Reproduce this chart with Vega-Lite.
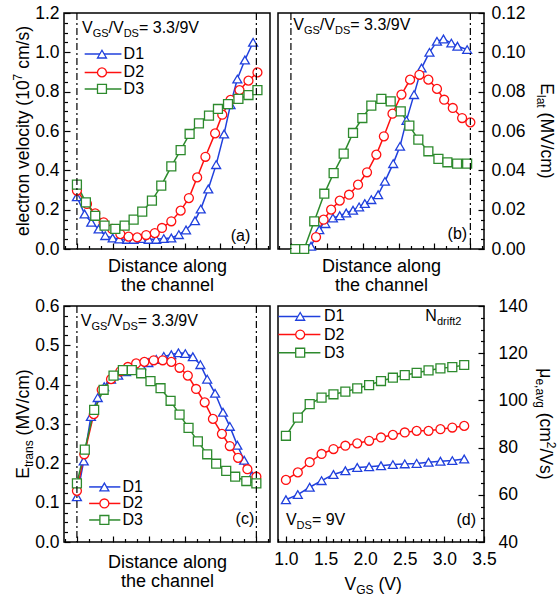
{
"$schema": "https://vega.github.io/schema/vega-lite/v6.json",
"padding": {"left": 11, "top": 3, "right": 0, "bottom": 0},
"config": {
  "font": "Liberation Sans",
  "view": {"stroke": "black", "strokeWidth": 1.5},
  "text": {"color": "black"},
  "axis": {"domain": false, "grid": false, "labelFontSize": 17.5, "labelColor": "black", "tickColor": "black", "tickWidth": 1.2, "titleFontSize": 18, "titleFontWeight": "normal", "titleColor": "black", "labelOverlap": false, "labelFlush": false, "labelBound": false, "titleLineHeight": 18.5}
},
"datasets": {
  "a": [
    {"series":"D1","distance":0,"value":0.266},{"series":"D1","distance":0.214,"value":0.178},{"series":"D1","distance":0.4,"value":0.136},{"series":"D1","distance":0.605,"value":0.102},{"series":"D1","distance":0.79,"value":0.068},{"series":"D1","distance":0.996,"value":0.056},{"series":"D1","distance":1.18,"value":0.051},{"series":"D1","distance":1.4,"value":0.049},{"series":"D1","distance":1.58,"value":0.049},{"series":"D1","distance":1.8,"value":0.053},{"series":"D1","distance":2.0,"value":0.049},{"series":"D1","distance":2.21,"value":0.049},{"series":"D1","distance":2.42,"value":0.053},{"series":"D1","distance":2.63,"value":0.056},{"series":"D1","distance":2.84,"value":0.073},{"series":"D1","distance":3.04,"value":0.097},{"series":"D1","distance":3.29,"value":0.144},{"series":"D1","distance":3.45,"value":0.203},{"series":"D1","distance":3.66,"value":0.305},{"series":"D1","distance":3.88,"value":0.429},{"series":"D1","distance":4.1,"value":0.585},{"series":"D1","distance":4.28,"value":0.734},{"series":"D1","distance":4.47,"value":0.864},{"series":"D1","distance":4.68,"value":0.961},{"series":"D1","distance":4.91,"value":1.051},
    {"series":"D2","distance":0,"value":0.297},{"series":"D2","distance":0.28,"value":0.229},{"series":"D2","distance":0.51,"value":0.181},{"series":"D2","distance":0.745,"value":0.136},{"series":"D2","distance":0.98,"value":0.102},{"series":"D2","distance":1.21,"value":0.076},{"series":"D2","distance":1.44,"value":0.063},{"series":"D2","distance":1.68,"value":0.059},{"series":"D2","distance":1.93,"value":0.071},{"series":"D2","distance":2.17,"value":0.081},{"series":"D2","distance":2.37,"value":0.107},{"series":"D2","distance":2.63,"value":0.141},{"series":"D2","distance":2.89,"value":0.195},{"series":"D2","distance":3.12,"value":0.259},{"series":"D2","distance":3.35,"value":0.364},{"series":"D2","distance":3.58,"value":0.469},{"series":"D2","distance":3.85,"value":0.588},{"series":"D2","distance":4.05,"value":0.683},{"series":"D2","distance":4.28,"value":0.758},{"series":"D2","distance":4.53,"value":0.808},{"series":"D2","distance":4.78,"value":0.856},{"series":"D2","distance":5.03,"value":0.898},
    {"series":"D3","distance":0,"value":0.327},{"series":"D3","distance":0.25,"value":0.237},{"series":"D3","distance":0.51,"value":0.169},{"series":"D3","distance":0.77,"value":0.119},{"series":"D3","distance":1.07,"value":0.102},{"series":"D3","distance":1.33,"value":0.119},{"series":"D3","distance":1.58,"value":0.149},{"series":"D3","distance":1.82,"value":0.19},{"series":"D3","distance":2.09,"value":0.246},{"series":"D3","distance":2.35,"value":0.322},{"series":"D3","distance":2.63,"value":0.42},{"series":"D3","distance":2.89,"value":0.503},{"series":"D3","distance":3.14,"value":0.585},{"series":"D3","distance":3.4,"value":0.639},{"series":"D3","distance":3.68,"value":0.678},{"series":"D3","distance":3.93,"value":0.712},{"series":"D3","distance":4.21,"value":0.737},{"series":"D3","distance":4.5,"value":0.763},{"series":"D3","distance":4.78,"value":0.783},{"series":"D3","distance":5.03,"value":0.808}
  ],
  "b": [
    {"series":"D1","distance":0.56,"value":0.0014},{"series":"D1","distance":0.79,"value":0.0098},{"series":"D1","distance":0.96,"value":0.0129},{"series":"D1","distance":1.17,"value":0.0158},{"series":"D1","distance":1.36,"value":0.0169},{"series":"D1","distance":1.54,"value":0.0183},{"series":"D1","distance":1.73,"value":0.0197},{"series":"D1","distance":1.9,"value":0.0214},{"series":"D1","distance":2.06,"value":0.0231},{"series":"D1","distance":2.24,"value":0.0251},{"series":"D1","distance":2.43,"value":0.0276},{"series":"D1","distance":2.62,"value":0.0344},{"series":"D1","distance":2.85,"value":0.0434},{"series":"D1","distance":3.04,"value":0.0522},{"series":"D1","distance":3.22,"value":0.0654},{"series":"D1","distance":3.43,"value":0.0785},{"series":"D1","distance":3.64,"value":0.092},{"series":"D1","distance":3.86,"value":0.1},{"series":"D1","distance":4.07,"value":0.1056},{"series":"D1","distance":4.25,"value":0.1068},{"series":"D1","distance":4.47,"value":0.1047},{"series":"D1","distance":4.64,"value":0.1031},{"series":"D1","distance":4.91,"value":0.1014},
    {"series":"D2","distance":0.7,"value":0.0061},{"series":"D2","distance":0.91,"value":0.0149},{"series":"D2","distance":1.12,"value":0.02},{"series":"D2","distance":1.36,"value":0.0246},{"series":"D2","distance":1.62,"value":0.0276},{"series":"D2","distance":1.87,"value":0.0327},{"series":"D2","distance":2.12,"value":0.039},{"series":"D2","distance":2.38,"value":0.048},{"series":"D2","distance":2.59,"value":0.0573},{"series":"D2","distance":2.83,"value":0.0688},{"series":"D2","distance":3.08,"value":0.0785},{"series":"D2","distance":3.32,"value":0.0861},{"series":"D2","distance":3.58,"value":0.0886},{"series":"D2","distance":3.83,"value":0.0861},{"series":"D2","distance":4.07,"value":0.0814},{"series":"D2","distance":4.27,"value":0.0759},{"series":"D2","distance":4.51,"value":0.0717},{"series":"D2","distance":4.77,"value":0.0666},{"series":"D2","distance":5.0,"value":0.0644},
    {"series":"D3","distance":0.12,"value":0},{"series":"D3","distance":0.37,"value":0},{"series":"D3","distance":0.65,"value":0.0141},{"series":"D3","distance":0.93,"value":0.0281},{"series":"D3","distance":1.19,"value":0.0386},{"series":"D3","distance":1.47,"value":0.0485},{"series":"D3","distance":1.73,"value":0.059},{"series":"D3","distance":1.99,"value":0.0666},{"series":"D3","distance":2.24,"value":0.0729},{"series":"D3","distance":2.52,"value":0.0763},{"series":"D3","distance":2.78,"value":0.0751},{"series":"D3","distance":3.06,"value":0.07},{"series":"D3","distance":3.3,"value":0.0627},{"series":"D3","distance":3.55,"value":0.0556},{"series":"D3","distance":3.83,"value":0.0497},{"series":"D3","distance":4.11,"value":0.0458},{"series":"D3","distance":4.36,"value":0.0441},{"series":"D3","distance":4.63,"value":0.0434},{"series":"D3","distance":4.91,"value":0.0434}
  ],
  "c": [
    {"series":"D1","distance":0,"value":0.115},{"series":"D1","distance":0.19,"value":0.206},{"series":"D1","distance":0.39,"value":0.319},{"series":"D1","distance":0.58,"value":0.367},{"series":"D1","distance":0.76,"value":0.395},{"series":"D1","distance":0.95,"value":0.414},{"series":"D1","distance":1.15,"value":0.424},{"series":"D1","distance":1.37,"value":0.433},{"series":"D1","distance":1.55,"value":0.439},{"series":"D1","distance":1.79,"value":0.448},{"series":"D1","distance":1.99,"value":0.456},{"series":"D1","distance":2.21,"value":0.464},{"series":"D1","distance":2.42,"value":0.472},{"series":"D1","distance":2.63,"value":0.476},{"series":"D1","distance":2.83,"value":0.481},{"series":"D1","distance":3.02,"value":0.479},{"series":"D1","distance":3.23,"value":0.471},{"series":"D1","distance":3.44,"value":0.451},{"series":"D1","distance":3.63,"value":0.414},{"series":"D1","distance":3.85,"value":0.378},{"series":"D1","distance":4.07,"value":0.33},{"series":"D1","distance":4.26,"value":0.294},{"series":"D1","distance":4.47,"value":0.246},{"series":"D1","distance":4.66,"value":0.208},{"series":"D1","distance":4.88,"value":0.168},
    {"series":"D2","distance":0,"value":0.13},{"series":"D2","distance":0.205,"value":0.223},{"series":"D2","distance":0.47,"value":0.325},{"series":"D2","distance":0.69,"value":0.387},{"series":"D2","distance":0.95,"value":0.414},{"series":"D2","distance":1.21,"value":0.434},{"series":"D2","distance":1.42,"value":0.445},{"series":"D2","distance":1.65,"value":0.454},{"series":"D2","distance":1.88,"value":0.458},{"series":"D2","distance":2.14,"value":0.462},{"series":"D2","distance":2.39,"value":0.462},{"series":"D2","distance":2.63,"value":0.458},{"series":"D2","distance":2.86,"value":0.443},{"series":"D2","distance":3.09,"value":0.423},{"series":"D2","distance":3.32,"value":0.389},{"series":"D2","distance":3.56,"value":0.355},{"series":"D2","distance":3.79,"value":0.313},{"series":"D2","distance":4.04,"value":0.275},{"series":"D2","distance":4.26,"value":0.244},{"series":"D2","distance":4.49,"value":0.214},{"series":"D2","distance":4.75,"value":0.185},{"series":"D2","distance":5.0,"value":0.166},
    {"series":"D3","distance":0,"value":0.149},{"series":"D3","distance":0.22,"value":0.235},{"series":"D3","distance":0.48,"value":0.336},{"series":"D3","distance":0.745,"value":0.387},{"series":"D3","distance":1.02,"value":0.423},{"series":"D3","distance":1.28,"value":0.437},{"series":"D3","distance":1.53,"value":0.437},{"series":"D3","distance":1.79,"value":0.429},{"series":"D3","distance":2.05,"value":0.409},{"series":"D3","distance":2.33,"value":0.391},{"series":"D3","distance":2.61,"value":0.359},{"series":"D3","distance":2.86,"value":0.324},{"series":"D3","distance":3.11,"value":0.29},{"series":"D3","distance":3.37,"value":0.256},{"series":"D3","distance":3.63,"value":0.223},{"series":"D3","distance":3.88,"value":0.199},{"series":"D3","distance":4.16,"value":0.181},{"series":"D3","distance":4.41,"value":0.166},{"series":"D3","distance":4.72,"value":0.155},{"series":"D3","distance":5.0,"value":0.149}
  ],
  "d": [
    {"series":"D1","vgs":1.0,"mu":57.9},{"series":"D1","vgs":1.15,"mu":60.1},{"series":"D1","vgs":1.3,"mu":63.2},{"series":"D1","vgs":1.45,"mu":66.0},{"series":"D1","vgs":1.6,"mu":68.6},{"series":"D1","vgs":1.75,"mu":70.2},{"series":"D1","vgs":1.9,"mu":71.6},{"series":"D1","vgs":2.05,"mu":71.9},{"series":"D1","vgs":2.2,"mu":72.3},{"series":"D1","vgs":2.35,"mu":72.8},{"series":"D1","vgs":2.5,"mu":73.1},{"series":"D1","vgs":2.65,"mu":73.3},{"series":"D1","vgs":2.8,"mu":73.8},{"series":"D1","vgs":2.95,"mu":74.2},{"series":"D1","vgs":3.1,"mu":74.5},{"series":"D1","vgs":3.25,"mu":75.2},
    {"series":"D2","vgs":1.0,"mu":66.3},{"series":"D2","vgs":1.15,"mu":69.5},{"series":"D2","vgs":1.3,"mu":73.8},{"series":"D2","vgs":1.45,"mu":77.3},{"series":"D2","vgs":1.6,"mu":79.4},{"series":"D2","vgs":1.75,"mu":80.8},{"series":"D2","vgs":1.9,"mu":81.8},{"series":"D2","vgs":2.05,"mu":82.9},{"series":"D2","vgs":2.2,"mu":84.3},{"series":"D2","vgs":2.35,"mu":85.4},{"series":"D2","vgs":2.5,"mu":86.4},{"series":"D2","vgs":2.65,"mu":87.1},{"series":"D2","vgs":2.8,"mu":87.1},{"series":"D2","vgs":2.95,"mu":87.8},{"series":"D2","vgs":3.1,"mu":88.5},{"series":"D2","vgs":3.25,"mu":89.2},
    {"series":"D3","vgs":1.0,"mu":85.0},{"series":"D3","vgs":1.15,"mu":92.7},{"series":"D3","vgs":1.3,"mu":98.4},{"series":"D3","vgs":1.45,"mu":101.2},{"series":"D3","vgs":1.6,"mu":102.6},{"series":"D3","vgs":1.75,"mu":103.7},{"series":"D3","vgs":1.9,"mu":105.1},{"series":"D3","vgs":2.05,"mu":106.5},{"series":"D3","vgs":2.2,"mu":108.2},{"series":"D3","vgs":2.35,"mu":109.6},{"series":"D3","vgs":2.5,"mu":110.7},{"series":"D3","vgs":2.65,"mu":111.7},{"series":"D3","vgs":2.8,"mu":112.7},{"series":"D3","vgs":2.95,"mu":113.6},{"series":"D3","vgs":3.1,"mu":114.1},{"series":"D3","vgs":3.25,"mu":115.0}
  ]
},
"columns": 2,
"bounds": "flush",
"spacing": {"row": 57, "column": 8},
"concat": [
 {
  "width": 206, "height": 236,
  "resolve": {"axis": {"x": "independent", "y": "independent"}},
  "layer": [
   {"data": {"name": "a"}, "mark": {"type": "line", "strokeWidth": 1.5},
    "encoding": {
     "x": {"field": "distance", "type": "quantitative", "scale": {"domain": [-0.36, 5.38], "nice": false, "zero": false},
           "axis": {"orient": "bottom", "title": ["Distance along", "the channel"], "labels": false, "titlePadding": 8, "values": [0, 1, 2, 3, 4, 5], "offset": -6, "tickSize": 6}},
     "y": {"field": "value", "type": "quantitative", "scale": {"domain": [0, 1.2], "nice": false, "zero": false},
           "axis": {"orient": "left", "title": null, "format": ".1f", "labelPadding": 5, "values": [0, 0.2, 0.4, 0.6, 0.8, 1, 1.2], "offset": -6, "tickSize": 6}},
     "stroke": {"field": "series", "type": "nominal", "scale": {"domain": ["D1", "D2", "D3"], "range": ["#2040dd", "#ff1010", "#2d8a2d"]}, "legend": null}
    }},
   {"data": {"name": "a"}, "mark": {"type": "point", "filled": true, "fill": "white", "opacity": 1, "size": 80, "strokeWidth": 1.3},
    "encoding": {
     "x": {"field": "distance", "type": "quantitative", "axis": null},
     "y": {"field": "value", "type": "quantitative", "axis": null},
     "stroke": {"field": "series", "type": "nominal", "scale": {"domain": ["D1", "D2", "D3"], "range": ["#2040dd", "#ff1010", "#2d8a2d"]}, "legend": null},
     "shape": {"field": "series", "type": "nominal", "scale": {"domain": ["D1", "D2", "D3"], "range": ["triangle-up", "circle", "square"]}, "legend": null}
    }},
   {"data": {"name": "a"}, "mark": {"type": "point", "opacity": 0},
    "encoding": {
     "x": {"field": "distance", "type": "quantitative", "axis": {"orient": "bottom", "title": null, "labels": false, "values": [-0.3333, 0.3333, 0.6667, 1.3333, 1.6667, 2.3333, 2.6667, 3.3333, 3.6667, 4.3333, 4.6667, 5.3333], "offset": -3.5, "tickSize": 3.5}},
     "y": {"field": "value", "type": "quantitative", "axis": {"orient": "left", "title": null, "labels": false, "values": [0.05,0.1,0.15,0.25,0.3,0.35,0.45,0.5,0.55,0.65,0.7,0.75,0.85,0.9,0.95,1.05,1.1,1.15], "offset": -3.5, "tickSize": 3.5}}
    }},
   {"data": {"values": [{}]}, "mark": {"type": "rule", "stroke": "black", "strokeWidth": 1.2, "strokeDash": [7, 3, 2, 3]}, "encoding": {"x": {"datum": 0, "axis": null}}},
   {"data": {"values": [{}]}, "mark": {"type": "rule", "stroke": "black", "strokeWidth": 1.2, "strokeDash": [7, 3, 2, 3]}, "encoding": {"x": {"datum": 5, "axis": null}}},
   {"data": {"values": [{}]}, "encoding": {"y": {"datum": 0.991, "axis": null}}, "layer": [
     {"mark": {"type": "rule", "stroke": "#2040dd", "strokeWidth": 1.5}, "encoding": {"x": {"datum": 0.216, "axis": null}, "x2": {"datum": 1.24}}},
     {"mark": {"type": "point", "shape": "triangle-up", "filled": true, "fill": "white", "stroke": "#2040dd", "opacity": 1, "size": 80, "strokeWidth": 1.3}, "encoding": {"x": {"datum": 0.698, "axis": null}}},
     {"mark": {"type": "text", "align": "left", "baseline": "middle", "fontSize": 16}, "encoding": {"x": {"datum": 1.3, "axis": null}, "text": {"value": "D1"}}}]},
   {"data": {"values": [{}]}, "encoding": {"y": {"datum": 0.898, "axis": null}}, "layer": [
     {"mark": {"type": "rule", "stroke": "#ff1010", "strokeWidth": 1.5}, "encoding": {"x": {"datum": 0.216, "axis": null}, "x2": {"datum": 1.24}}},
     {"mark": {"type": "point", "shape": "circle", "filled": true, "fill": "white", "stroke": "#ff1010", "opacity": 1, "size": 80, "strokeWidth": 1.3}, "encoding": {"x": {"datum": 0.698, "axis": null}}},
     {"mark": {"type": "text", "align": "left", "baseline": "middle", "fontSize": 16}, "encoding": {"x": {"datum": 1.3, "axis": null}, "text": {"value": "D2"}}}]},
   {"data": {"values": [{}]}, "encoding": {"y": {"datum": 0.814, "axis": null}}, "layer": [
     {"mark": {"type": "rule", "stroke": "#2d8a2d", "strokeWidth": 1.5}, "encoding": {"x": {"datum": 0.216, "axis": null}, "x2": {"datum": 1.24}}},
     {"mark": {"type": "point", "shape": "square", "filled": true, "fill": "white", "stroke": "#2d8a2d", "opacity": 1, "size": 80, "strokeWidth": 1.3}, "encoding": {"x": {"datum": 0.698, "axis": null}}},
     {"mark": {"type": "text", "align": "left", "baseline": "middle", "fontSize": 16}, "encoding": {"x": {"datum": 1.3, "axis": null}, "text": {"value": "D3"}}}]},
   {"data": {"values": [{}]}, "encoding": {"x": {"datum": 0.14, "axis": null}, "y": {"datum": 1.1, "axis": null}}, "layer": [
     {"mark": {"type": "text", "align": "left", "baseline": "alphabetic", "fontSize": 16}, "encoding": {"text": {"value": "V"}}},
     {"mark": {"type": "text", "align": "left", "baseline": "alphabetic", "fontSize": 11, "dx": 10.7, "dy": 4}, "encoding": {"text": {"value": "GS"}}},
     {"mark": {"type": "text", "align": "left", "baseline": "alphabetic", "fontSize": 16, "dx": 26.6}, "encoding": {"text": {"value": "/V"}}},
     {"mark": {"type": "text", "align": "left", "baseline": "alphabetic", "fontSize": 11, "dx": 41.7, "dy": 4}, "encoding": {"text": {"value": "DS"}}},
     {"mark": {"type": "text", "align": "left", "baseline": "alphabetic", "fontSize": 16, "dx": 57}, "encoding": {"text": {"value": "= 3.3/9V"}}}]},
   {"data": {"values": [{}]}, "mark": {"type": "text", "align": "right", "baseline": "alphabetic", "fontSize": 16}, "encoding": {"x": {"datum": 4.83, "axis": null}, "y": {"datum": 0.042, "axis": null}, "text": {"value": "(a)"}}},
   {"data": {"values": [{}]}, "encoding": {"x": {"datum": -0.36, "axis": null}, "y": {"datum": 0.6, "axis": null}}, "layer": [
     {"mark": {"type": "text", "align": "left", "baseline": "alphabetic", "angle": 270, "fontSize": 17.5, "dx": -105, "dy": -35}, "encoding": {"text": {"value": "electron velocity (10"}}},
     {"mark": {"type": "text", "align": "left", "baseline": "alphabetic", "angle": 270, "fontSize": 12, "dx": 50.6, "dy": -42}, "encoding": {"text": {"value": "7"}}},
     {"mark": {"type": "text", "align": "left", "baseline": "alphabetic", "angle": 270, "fontSize": 17.5, "dx": 62.2, "dy": -35}, "encoding": {"text": {"value": "cm/s)"}}}]}
  ]
 },
 {
  "width": 206, "height": 236,
  "resolve": {"axis": {"x": "independent", "y": "independent"}},
  "layer": [
   {"data": {"name": "b"}, "mark": {"type": "line", "strokeWidth": 1.5},
    "encoding": {
     "x": {"field": "distance", "type": "quantitative", "scale": {"domain": [-0.36, 5.38], "nice": false, "zero": false},
           "axis": {"orient": "bottom", "title": ["Distance along", "the channel"], "labels": false, "titlePadding": 8, "values": [0, 1, 2, 3, 4, 5], "offset": -6, "tickSize": 6}},
     "y": {"field": "value", "type": "quantitative", "scale": {"domain": [0, 0.12], "nice": false, "zero": false},
           "axis": {"orient": "right", "title": null, "format": ".2f", "labelPadding": 7, "values": [0, 0.02, 0.04, 0.06, 0.08, 0.1, 0.12], "offset": -6, "tickSize": 6}},
     "stroke": {"field": "series", "type": "nominal", "scale": {"domain": ["D1", "D2", "D3"], "range": ["#2040dd", "#ff1010", "#2d8a2d"]}, "legend": null}
    }},
   {"data": {"name": "b"}, "mark": {"type": "point", "filled": true, "fill": "white", "opacity": 1, "size": 80, "strokeWidth": 1.3},
    "encoding": {
     "x": {"field": "distance", "type": "quantitative", "axis": null},
     "y": {"field": "value", "type": "quantitative", "axis": null},
     "stroke": {"field": "series", "type": "nominal", "scale": {"domain": ["D1", "D2", "D3"], "range": ["#2040dd", "#ff1010", "#2d8a2d"]}, "legend": null},
     "shape": {"field": "series", "type": "nominal", "scale": {"domain": ["D1", "D2", "D3"], "range": ["triangle-up", "circle", "square"]}, "legend": null}
    }},
   {"data": {"name": "b"}, "mark": {"type": "point", "opacity": 0},
    "encoding": {
     "x": {"field": "distance", "type": "quantitative", "axis": {"orient": "bottom", "title": null, "labels": false, "values": [-0.3333, 0.3333, 0.6667, 1.3333, 1.6667, 2.3333, 2.6667, 3.3333, 3.6667, 4.3333, 4.6667, 5.3333], "offset": -3.5, "tickSize": 3.5}},
     "y": {"field": "value", "type": "quantitative", "axis": {"orient": "right", "title": null, "labels": false, "values": [0.005,0.01,0.015,0.025,0.03,0.035,0.045,0.05,0.055,0.065,0.07,0.075,0.085,0.09,0.095,0.105,0.11,0.115], "offset": -3.5, "tickSize": 3.5}}
    }},
   {"data": {"values": [{}]}, "mark": {"type": "rule", "stroke": "black", "strokeWidth": 1.2, "strokeDash": [7, 3, 2, 3]}, "encoding": {"x": {"datum": 0, "axis": null}}},
   {"data": {"values": [{}]}, "mark": {"type": "rule", "stroke": "black", "strokeWidth": 1.2, "strokeDash": [7, 3, 2, 3]}, "encoding": {"x": {"datum": 5, "axis": null}}},
   {"data": {"values": [{}]}, "encoding": {"x": {"datum": 0.065, "axis": null}, "y": {"datum": 0.1115, "axis": null}}, "layer": [
     {"mark": {"type": "text", "align": "left", "baseline": "alphabetic", "fontSize": 16}, "encoding": {"text": {"value": "V"}}},
     {"mark": {"type": "text", "align": "left", "baseline": "alphabetic", "fontSize": 11, "dx": 10.7, "dy": 4}, "encoding": {"text": {"value": "GS"}}},
     {"mark": {"type": "text", "align": "left", "baseline": "alphabetic", "fontSize": 16, "dx": 26.6}, "encoding": {"text": {"value": "/V"}}},
     {"mark": {"type": "text", "align": "left", "baseline": "alphabetic", "fontSize": 11, "dx": 41.7, "dy": 4}, "encoding": {"text": {"value": "DS"}}},
     {"mark": {"type": "text", "align": "left", "baseline": "alphabetic", "fontSize": 16, "dx": 57}, "encoding": {"text": {"value": "= 3.3/9V"}}}]},
   {"data": {"values": [{}]}, "mark": {"type": "text", "align": "right", "baseline": "alphabetic", "fontSize": 16}, "encoding": {"x": {"datum": 4.91, "axis": null}, "y": {"datum": 0.0051, "axis": null}, "text": {"value": "(b)"}}},
   {"data": {"values": [{}]}, "encoding": {"x": {"datum": 5.38, "axis": null}, "y": {"datum": 0.06, "axis": null}}, "layer": [
     {"mark": {"type": "text", "align": "left", "baseline": "alphabetic", "angle": 90, "fontSize": 17.5, "dx": -47.7, "dy": -57}, "encoding": {"text": {"value": "E"}}},
     {"mark": {"type": "text", "align": "left", "baseline": "alphabetic", "angle": 90, "fontSize": 12, "dx": -36, "dy": -53}, "encoding": {"text": {"value": "lat"}}},
     {"mark": {"type": "text", "align": "left", "baseline": "alphabetic", "angle": 90, "fontSize": 17.5, "dx": -18.4, "dy": -57}, "encoding": {"text": {"value": "(MV/cm)"}}}]}
  ]
 },
 {
  "width": 206, "height": 236,
  "resolve": {"axis": {"x": "independent", "y": "independent"}},
  "layer": [
   {"data": {"name": "c"}, "mark": {"type": "line", "strokeWidth": 1.5},
    "encoding": {
     "x": {"field": "distance", "type": "quantitative", "scale": {"domain": [-0.36, 5.38], "nice": false, "zero": false},
           "axis": {"orient": "bottom", "title": ["Distance along", "the channel"], "labels": false, "titlePadding": 11, "values": [0, 1, 2, 3, 4, 5], "offset": -6, "tickSize": 6}},
     "y": {"field": "value", "type": "quantitative", "scale": {"domain": [0, 0.6], "nice": false, "zero": false},
           "axis": {"orient": "left", "title": null, "format": ".1f", "labelPadding": 5, "values": [0, 0.1, 0.2, 0.3, 0.4, 0.5, 0.6], "offset": -6, "tickSize": 6}},
     "stroke": {"field": "series", "type": "nominal", "scale": {"domain": ["D1", "D2", "D3"], "range": ["#2040dd", "#ff1010", "#2d8a2d"]}, "legend": null}
    }},
   {"data": {"name": "c"}, "mark": {"type": "point", "filled": true, "fill": "white", "opacity": 1, "size": 80, "strokeWidth": 1.3},
    "encoding": {
     "x": {"field": "distance", "type": "quantitative", "axis": null},
     "y": {"field": "value", "type": "quantitative", "axis": null},
     "stroke": {"field": "series", "type": "nominal", "scale": {"domain": ["D1", "D2", "D3"], "range": ["#2040dd", "#ff1010", "#2d8a2d"]}, "legend": null},
     "shape": {"field": "series", "type": "nominal", "scale": {"domain": ["D1", "D2", "D3"], "range": ["triangle-up", "circle", "square"]}, "legend": null}
    }},
   {"data": {"name": "c"}, "mark": {"type": "point", "opacity": 0},
    "encoding": {
     "x": {"field": "distance", "type": "quantitative", "axis": {"orient": "bottom", "title": null, "labels": false, "values": [-0.3333, 0.3333, 0.6667, 1.3333, 1.6667, 2.3333, 2.6667, 3.3333, 3.6667, 4.3333, 4.6667, 5.3333], "offset": -3.5, "tickSize": 3.5}},
     "y": {"field": "value", "type": "quantitative", "axis": {"orient": "left", "title": null, "labels": false, "values": [0.025,0.05,0.075,0.125,0.15,0.175,0.225,0.25,0.275,0.325,0.35,0.375,0.425,0.45,0.475,0.525,0.55,0.575], "offset": -3.5, "tickSize": 3.5}}
    }},
   {"data": {"values": [{}]}, "mark": {"type": "rule", "stroke": "black", "strokeWidth": 1.2, "strokeDash": [7, 3, 2, 3]}, "encoding": {"x": {"datum": 0, "axis": null}}},
   {"data": {"values": [{}]}, "mark": {"type": "rule", "stroke": "black", "strokeWidth": 1.2, "strokeDash": [7, 3, 2, 3]}, "encoding": {"x": {"datum": 5, "axis": null}}},
   {"data": {"values": [{}]}, "encoding": {"y": {"datum": 0.14, "axis": null}}, "layer": [
     {"mark": {"type": "rule", "stroke": "#2040dd", "strokeWidth": 1.5}, "encoding": {"x": {"datum": 0.34, "axis": null}, "x2": {"datum": 1.21}}},
     {"mark": {"type": "point", "shape": "triangle-up", "filled": true, "fill": "white", "stroke": "#2040dd", "opacity": 1, "size": 80, "strokeWidth": 1.3}, "encoding": {"x": {"datum": 0.765, "axis": null}}},
     {"mark": {"type": "text", "align": "left", "baseline": "middle", "fontSize": 16}, "encoding": {"x": {"datum": 1.27, "axis": null}, "text": {"value": "D1"}}}]},
   {"data": {"values": [{}]}, "encoding": {"y": {"datum": 0.098, "axis": null}}, "layer": [
     {"mark": {"type": "rule", "stroke": "#ff1010", "strokeWidth": 1.5}, "encoding": {"x": {"datum": 0.34, "axis": null}, "x2": {"datum": 1.21}}},
     {"mark": {"type": "point", "shape": "circle", "filled": true, "fill": "white", "stroke": "#ff1010", "opacity": 1, "size": 80, "strokeWidth": 1.3}, "encoding": {"x": {"datum": 0.765, "axis": null}}},
     {"mark": {"type": "text", "align": "left", "baseline": "middle", "fontSize": 16}, "encoding": {"x": {"datum": 1.27, "axis": null}, "text": {"value": "D2"}}}]},
   {"data": {"values": [{}]}, "encoding": {"y": {"datum": 0.056, "axis": null}}, "layer": [
     {"mark": {"type": "rule", "stroke": "#2d8a2d", "strokeWidth": 1.5}, "encoding": {"x": {"datum": 0.34, "axis": null}, "x2": {"datum": 1.21}}},
     {"mark": {"type": "point", "shape": "square", "filled": true, "fill": "white", "stroke": "#2d8a2d", "opacity": 1, "size": 80, "strokeWidth": 1.3}, "encoding": {"x": {"datum": 0.765, "axis": null}}},
     {"mark": {"type": "text", "align": "left", "baseline": "middle", "fontSize": 16}, "encoding": {"x": {"datum": 1.27, "axis": null}, "text": {"value": "D3"}}}]},
   {"data": {"values": [{}]}, "encoding": {"x": {"datum": 0.11, "axis": null}, "y": {"datum": 0.55, "axis": null}}, "layer": [
     {"mark": {"type": "text", "align": "left", "baseline": "alphabetic", "fontSize": 16}, "encoding": {"text": {"value": "V"}}},
     {"mark": {"type": "text", "align": "left", "baseline": "alphabetic", "fontSize": 11, "dx": 10.7, "dy": 4}, "encoding": {"text": {"value": "GS"}}},
     {"mark": {"type": "text", "align": "left", "baseline": "alphabetic", "fontSize": 16, "dx": 26.6}, "encoding": {"text": {"value": "/V"}}},
     {"mark": {"type": "text", "align": "left", "baseline": "alphabetic", "fontSize": 11, "dx": 41.7, "dy": 4}, "encoding": {"text": {"value": "DS"}}},
     {"mark": {"type": "text", "align": "left", "baseline": "alphabetic", "fontSize": 16, "dx": 57}, "encoding": {"text": {"value": "= 3.3/9V"}}}]},
   {"data": {"values": [{}]}, "mark": {"type": "text", "align": "right", "baseline": "alphabetic", "fontSize": 16}, "encoding": {"x": {"datum": 4.94, "axis": null}, "y": {"datum": 0.046, "axis": null}, "text": {"value": "(c)"}}},
   {"data": {"values": [{}]}, "encoding": {"x": {"datum": -0.36, "axis": null}, "y": {"datum": 0.3, "axis": null}}, "layer": [
     {"mark": {"type": "text", "align": "left", "baseline": "alphabetic", "angle": 270, "fontSize": 17.5, "dx": -54.7, "dy": -35}, "encoding": {"text": {"value": "E"}}},
     {"mark": {"type": "text", "align": "left", "baseline": "alphabetic", "angle": 270, "fontSize": 12, "dx": -43, "dy": -31}, "encoding": {"text": {"value": "trans"}}},
     {"mark": {"type": "text", "align": "left", "baseline": "alphabetic", "angle": 270, "fontSize": 17.5, "dx": -11.4, "dy": -35}, "encoding": {"text": {"value": "(MV/cm)"}}}]}
  ]
 },
 {
  "width": 206, "height": 236,
  "resolve": {"axis": {"x": "independent", "y": "independent"}},
  "layer": [
   {"data": {"name": "d"}, "mark": {"type": "line", "strokeWidth": 1.5},
    "encoding": {
     "x": {"field": "vgs", "type": "quantitative", "scale": {"domain": [0.9, 3.5], "nice": false, "zero": false},
           "axis": {"orient": "bottom", "title": null, "format": ".1f", "labelPadding": 8, "values": [1, 1.5, 2, 2.5, 3, 3.5], "offset": -6, "tickSize": 6}},
     "y": {"field": "mu", "type": "quantitative", "scale": {"domain": [40, 140], "nice": false, "zero": false},
           "axis": {"orient": "right", "title": null, "format": ".0f", "labelPadding": 14, "values": [40, 60, 80, 100, 120, 140], "offset": -6, "tickSize": 6}},
     "stroke": {"field": "series", "type": "nominal", "scale": {"domain": ["D1", "D2", "D3"], "range": ["#2040dd", "#ff1010", "#2d8a2d"]}, "legend": null}
    }},
   {"data": {"name": "d"}, "mark": {"type": "point", "filled": true, "fill": "white", "opacity": 1, "size": 80, "strokeWidth": 1.3},
    "encoding": {
     "x": {"field": "vgs", "type": "quantitative", "axis": null},
     "y": {"field": "mu", "type": "quantitative", "axis": null},
     "stroke": {"field": "series", "type": "nominal", "scale": {"domain": ["D1", "D2", "D3"], "range": ["#2040dd", "#ff1010", "#2d8a2d"]}, "legend": null},
     "shape": {"field": "series", "type": "nominal", "scale": {"domain": ["D1", "D2", "D3"], "range": ["triangle-up", "circle", "square"]}, "legend": null}
    }},
   {"data": {"name": "d"}, "mark": {"type": "point", "opacity": 0},
    "encoding": {
     "x": {"field": "vgs", "type": "quantitative", "axis": {"orient": "bottom", "title": null, "labels": false, "values": [0.9,1.1,1.2,1.3,1.4,1.6,1.7,1.8,1.9,2.1,2.2,2.3,2.4,2.6,2.7,2.8,2.9,3.1,3.2,3.3,3.4], "offset": -3.5, "tickSize": 3.5}},
     "y": {"field": "mu", "type": "quantitative", "axis": {"orient": "right", "title": null, "labels": false, "values": [45,50,55,65,70,75,85,90,95,105,110,115,125,130,135], "offset": -3.5, "tickSize": 3.5}}
    }},
   {"data": {"values": [{}]}, "encoding": {"y": {"datum": 135.6, "axis": null}}, "layer": [
     {"mark": {"type": "rule", "stroke": "#2040dd", "strokeWidth": 1.5}, "encoding": {"x": {"datum": 0.905, "axis": null}, "x2": {"datum": 1.435}}},
     {"mark": {"type": "point", "shape": "triangle-up", "filled": true, "fill": "white", "stroke": "#2040dd", "opacity": 1, "size": 80, "strokeWidth": 1.3}, "encoding": {"x": {"datum": 1.18, "axis": null}}},
     {"mark": {"type": "text", "align": "left", "baseline": "middle", "fontSize": 16}, "encoding": {"x": {"datum": 1.48, "axis": null}, "text": {"value": "D1"}}}]},
   {"data": {"values": [{}]}, "encoding": {"y": {"datum": 127.9, "axis": null}}, "layer": [
     {"mark": {"type": "rule", "stroke": "#ff1010", "strokeWidth": 1.5}, "encoding": {"x": {"datum": 0.905, "axis": null}, "x2": {"datum": 1.435}}},
     {"mark": {"type": "point", "shape": "circle", "filled": true, "fill": "white", "stroke": "#ff1010", "opacity": 1, "size": 80, "strokeWidth": 1.3}, "encoding": {"x": {"datum": 1.18, "axis": null}}},
     {"mark": {"type": "text", "align": "left", "baseline": "middle", "fontSize": 16}, "encoding": {"x": {"datum": 1.48, "axis": null}, "text": {"value": "D2"}}}]},
   {"data": {"values": [{}]}, "encoding": {"y": {"datum": 120.2, "axis": null}}, "layer": [
     {"mark": {"type": "rule", "stroke": "#2d8a2d", "strokeWidth": 1.5}, "encoding": {"x": {"datum": 0.905, "axis": null}, "x2": {"datum": 1.435}}},
     {"mark": {"type": "point", "shape": "square", "filled": true, "fill": "white", "stroke": "#2d8a2d", "opacity": 1, "size": 80, "strokeWidth": 1.3}, "encoding": {"x": {"datum": 1.18, "axis": null}}},
     {"mark": {"type": "text", "align": "left", "baseline": "middle", "fontSize": 16}, "encoding": {"x": {"datum": 1.48, "axis": null}, "text": {"value": "D3"}}}]},
   {"data": {"values": [{}]}, "encoding": {"x": {"datum": 2.76, "axis": null}, "y": {"datum": 133.5, "axis": null}}, "layer": [
     {"mark": {"type": "text", "align": "left", "baseline": "alphabetic", "fontSize": 16}, "encoding": {"text": {"value": "N"}}},
     {"mark": {"type": "text", "align": "left", "baseline": "alphabetic", "fontSize": 11, "dx": 11.6, "dy": 4}, "encoding": {"text": {"value": "drift2"}}}]},
   {"data": {"values": [{}]}, "encoding": {"x": {"datum": 1.0, "axis": null}, "y": {"datum": 47, "axis": null}}, "layer": [
     {"mark": {"type": "text", "align": "left", "baseline": "alphabetic", "fontSize": 16}, "encoding": {"text": {"value": "V"}}},
     {"mark": {"type": "text", "align": "left", "baseline": "alphabetic", "fontSize": 11, "dx": 10.7, "dy": 4}, "encoding": {"text": {"value": "DS"}}},
     {"mark": {"type": "text", "align": "left", "baseline": "alphabetic", "fontSize": 16, "dx": 26}, "encoding": {"text": {"value": "= 9V"}}}]},
   {"data": {"values": [{}]}, "mark": {"type": "text", "align": "right", "baseline": "alphabetic", "fontSize": 16}, "encoding": {"x": {"datum": 3.4, "axis": null}, "y": {"datum": 47, "axis": null}, "text": {"value": "(d)"}}},
   {"data": {"values": [{}]}, "encoding": {"x": {"datum": 3.5, "axis": null}, "y": {"datum": 90, "axis": null}}, "layer": [
     {"mark": {"type": "text", "align": "left", "baseline": "alphabetic", "angle": 90, "fontSize": 17.5, "dx": -55.65, "dy": -56}, "encoding": {"text": {"value": "μ"}}},
     {"mark": {"type": "text", "align": "left", "baseline": "alphabetic", "angle": 90, "fontSize": 12, "dx": -45.55, "dy": -52}, "encoding": {"text": {"value": "e,avg"}}},
     {"mark": {"type": "text", "align": "left", "baseline": "alphabetic", "angle": 90, "fontSize": 17.5, "dx": -11.25, "dy": -56}, "encoding": {"text": {"value": "(cm"}}},
     {"mark": {"type": "text", "align": "left", "baseline": "alphabetic", "angle": 90, "fontSize": 12, "dx": 17.85, "dy": -63}, "encoding": {"text": {"value": "2"}}},
     {"mark": {"type": "text", "align": "left", "baseline": "alphabetic", "angle": 90, "fontSize": 17.5, "dx": 24.55, "dy": -56}, "encoding": {"text": {"value": "/Vs)"}}}]},
   {"data": {"values": [{}]}, "encoding": {"x": {"datum": 2.1, "axis": null}, "y": {"datum": 40, "axis": null}}, "layer": [
     {"mark": {"type": "text", "align": "left", "baseline": "alphabetic", "fontSize": 17.5, "dx": -28.6, "dy": 48}, "encoding": {"text": {"value": "V"}}},
     {"mark": {"type": "text", "align": "left", "baseline": "alphabetic", "fontSize": 12, "dx": -16.9, "dy": 52}, "encoding": {"text": {"value": "GS"}}},
     {"mark": {"type": "text", "align": "left", "baseline": "alphabetic", "fontSize": 17.5, "dx": 5.3, "dy": 48}, "encoding": {"text": {"value": "(V)"}}}]}
  ]
 }
]
}
